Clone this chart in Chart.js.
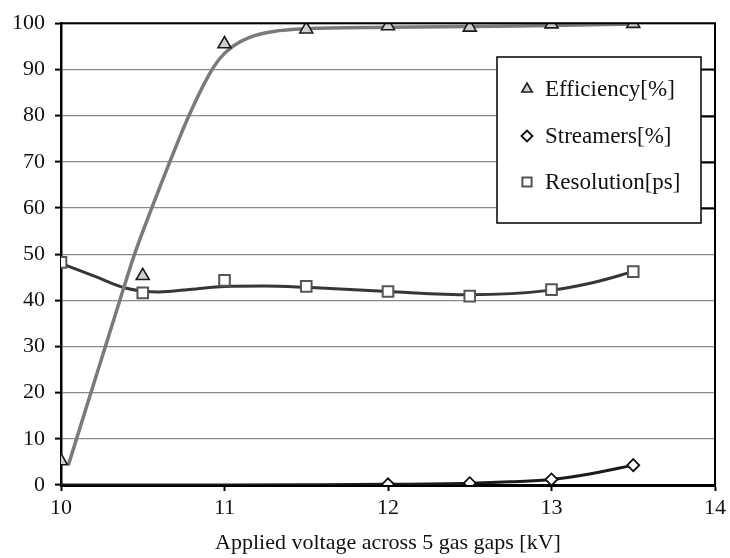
<!DOCTYPE html>
<html>
<head>
<meta charset="utf-8">
<script src="https://cdn.jsdelivr.net/npm/chart.js@4/dist/chart.umd.min.js"></script>
<style>
  html, body { margin: 0; padding: 0; background: #fff; }
  #wrap { width: 730px; height: 558px; }
</style>
</head>
<body>
<div id="wrap"><canvas id="c" width="730" height="558"></canvas></div>
<script>
// Measured points (applied voltage in kV)
const voltage = [10, 10.5, 11, 11.5, 12, 12.5, 13, 13.5];
const efficiency = [5.2, 45.3, 95.5, 98.7, 99.4, 99.1, 99.8, 99.9];
const resolution = [48.2, 41.6, 44.3, 43.0, 41.9, 40.9, 42.3, 46.2];
const streamerVoltage = [12, 12.5, 13, 13.5];
const streamers = [0.15, 0.4, 1.2, 4.3];

// Smoothed trend curves
const effTrendX = [10.045, 10.36, 10.45, 10.55, 10.66, 10.78, 10.9, 10.97, 11.05, 11.15, 11.3, 11.5, 12, 12.5, 13, 13.5];
const effTrendY = [4.3, 40, 50, 59.5, 69.5, 79.8, 88.5, 92.3, 95, 96.9, 98.2, 98.8, 99.1, 99.3, 99.5, 99.8];
const resTrendX = [10, 10.2, 10.4, 10.6, 10.8, 11, 11.25, 11.5, 12, 12.5, 13, 13.25, 13.5];
const resTrendY = [48, 45.3, 42.6, 41.8, 42.4, 43, 43.1, 42.8, 41.9, 41.2, 42.2, 43.8, 46.2];
const strTrendX = [10, 11, 11.5, 12, 12.5, 12.75, 13, 13.25, 13.5];
const strTrendY = [0, 0, 0.05, 0.15, 0.4, 0.7, 1.2, 2.5, 4.3];

const xTicks = [10, 11, 12, 13, 14];
const yTicks = [0, 10, 20, 30, 40, 50, 60, 70, 80, 90, 100];
const xTitle = 'Applied voltage across 5 gas gaps [kV]';
const legendLabels = ['Efficiency[%]', 'Streamers[%]', 'Resolution[ps]'];

const pts = (xs, ys) => xs.map((x, i) => ({ x, y: ys[i] }));
const FONT = "'Liberation Serif', 'Times New Roman', serif";

const markerStyles = [
  { pointStyle: 'triangle', fill: '#cfcfcf', stroke: '#1c1c1c', radius: 7.5, legendRadius: 6, width: 1.6 },
  { pointStyle: 'rectRot', fill: '#ffffff', stroke: '#111111', radius: 6, legendRadius: 5.5, width: 1.8 },
  { pointStyle: 'rect', fill: '#ffffff', stroke: '#555555', radius: 7.5, legendRadius: 6.5, width: 2 }
];

const lineDs = (data, color, width) => ({
  data, showLine: true, borderColor: color, borderWidth: width,
  pointRadius: 0, pointHoverRadius: 0, cubicInterpolationMode: 'monotone', order: 2
});
const markerDs = (label, data, m) => ({
  label, data, showLine: false, pointStyle: m.pointStyle, pointRadius: m.radius,
  pointBackgroundColor: m.fill, pointBorderColor: m.stroke, pointBorderWidth: m.width, order: 1
});

// Frame, legend box and its marker glyphs
const framePlugin = {
  id: 'frame',
  afterDatasetsDraw(chart) {
    const { ctx, chartArea: a, scales: { y } } = chart;
    ctx.save();
    ctx.strokeStyle = '#000';
    ctx.lineWidth = 2;
    ctx.beginPath();
    ctx.moveTo(a.left, a.top); ctx.lineTo(a.right, a.top); ctx.lineTo(a.right, a.bottom);
    ctx.stroke();

    const box = { l: 497, t: 57, r: 701, b: 223 };
    ctx.fillStyle = '#fff';
    ctx.fillRect(box.l, box.t, box.r - box.l, box.b - box.t);
    ctx.lineWidth = 1.5;
    ctx.strokeRect(box.l, box.t, box.r - box.l, box.b - box.t);

    // darker grid stubs between legend and right border
    ctx.lineWidth = 2;
    [60, 70, 80, 90].forEach(v => {
      const py = Math.round(y.getPixelForValue(v)) + 0.5;
      ctx.beginPath(); ctx.moveTo(box.r, py); ctx.lineTo(a.right, py); ctx.stroke();
    });

    const rowY = [89, 136, 182];
    ctx.font = '23px ' + FONT;
    ctx.textBaseline = 'middle';
    ctx.textAlign = 'left';
    legendLabels.forEach((txt, i) => {
      const m = markerStyles[i];
      ctx.fillStyle = m.fill;
      ctx.strokeStyle = m.stroke;
      ctx.lineWidth = m.width;
      Chart.helpers.drawPoint(ctx, { pointStyle: m.pointStyle, radius: m.legendRadius, rotation: 0, borderWidth: m.width }, 527, rowY[i]);
      ctx.fillStyle = '#111';
      ctx.fillText(txt, 545, rowY[i] + 1);
    });
    ctx.restore();
  }
};

new Chart(document.getElementById('c'), {
  type: 'scatter',
  data: {
    datasets: [
      markerDs(legendLabels[0], pts(voltage, efficiency), markerStyles[0]),
      markerDs(legendLabels[1], pts(streamerVoltage, streamers), markerStyles[1]),
      markerDs(legendLabels[2], pts(voltage, resolution), markerStyles[2]),
      lineDs(pts(effTrendX, effTrendY), '#7a7a7a', 3.5),
      lineDs(pts(strTrendX, strTrendY), '#1a1a1a', 3),
      lineDs(pts(resTrendX, resTrendY), '#363636', 3)
    ]
  },
  options: {
    responsive: false,
    animation: false,
    events: [],
    layout: { padding: { top: 20, right: 14, left: 0, bottom: 0 } },
    plugins: { legend: { display: false }, tooltip: { enabled: false } },
    scales: {
      x: {
        type: 'linear', min: 10, max: 14,
        afterBuildTicks: s => { s.ticks = xTicks.map(v => ({ value: v })); },
        afterFit: s => { s.height = 73; },
        grid: { display: true, drawOnChartArea: false, drawTicks: true, tickLength: 6, tickColor: '#000', tickWidth: 2 },
        border: { display: true, color: '#000', width: 3 },
        ticks: { color: '#111', padding: 4, font: { family: FONT, size: 22 } },
        title: { display: true, text: xTitle, color: '#111', padding: { top: 0, bottom: 2 }, font: { family: FONT, size: 22 } }
      },
      y: {
        type: 'linear', min: 0, max: 100,
        afterBuildTicks: s => { s.ticks = yTicks.map(v => ({ value: v })); },
        afterFit: s => { s.width = 61; },
        grid: { display: true, drawOnChartArea: true, color: '#8a8a8a', lineWidth: 1.2, tickLength: 6, tickColor: '#000', tickWidth: 2 },
        border: { display: true, color: '#000', width: 2.5 },
        ticks: { color: '#111', padding: 10, font: { family: FONT, size: 22 } }
      }
    }
  },
  plugins: [framePlugin]
});
</script>
</body>
</html>
